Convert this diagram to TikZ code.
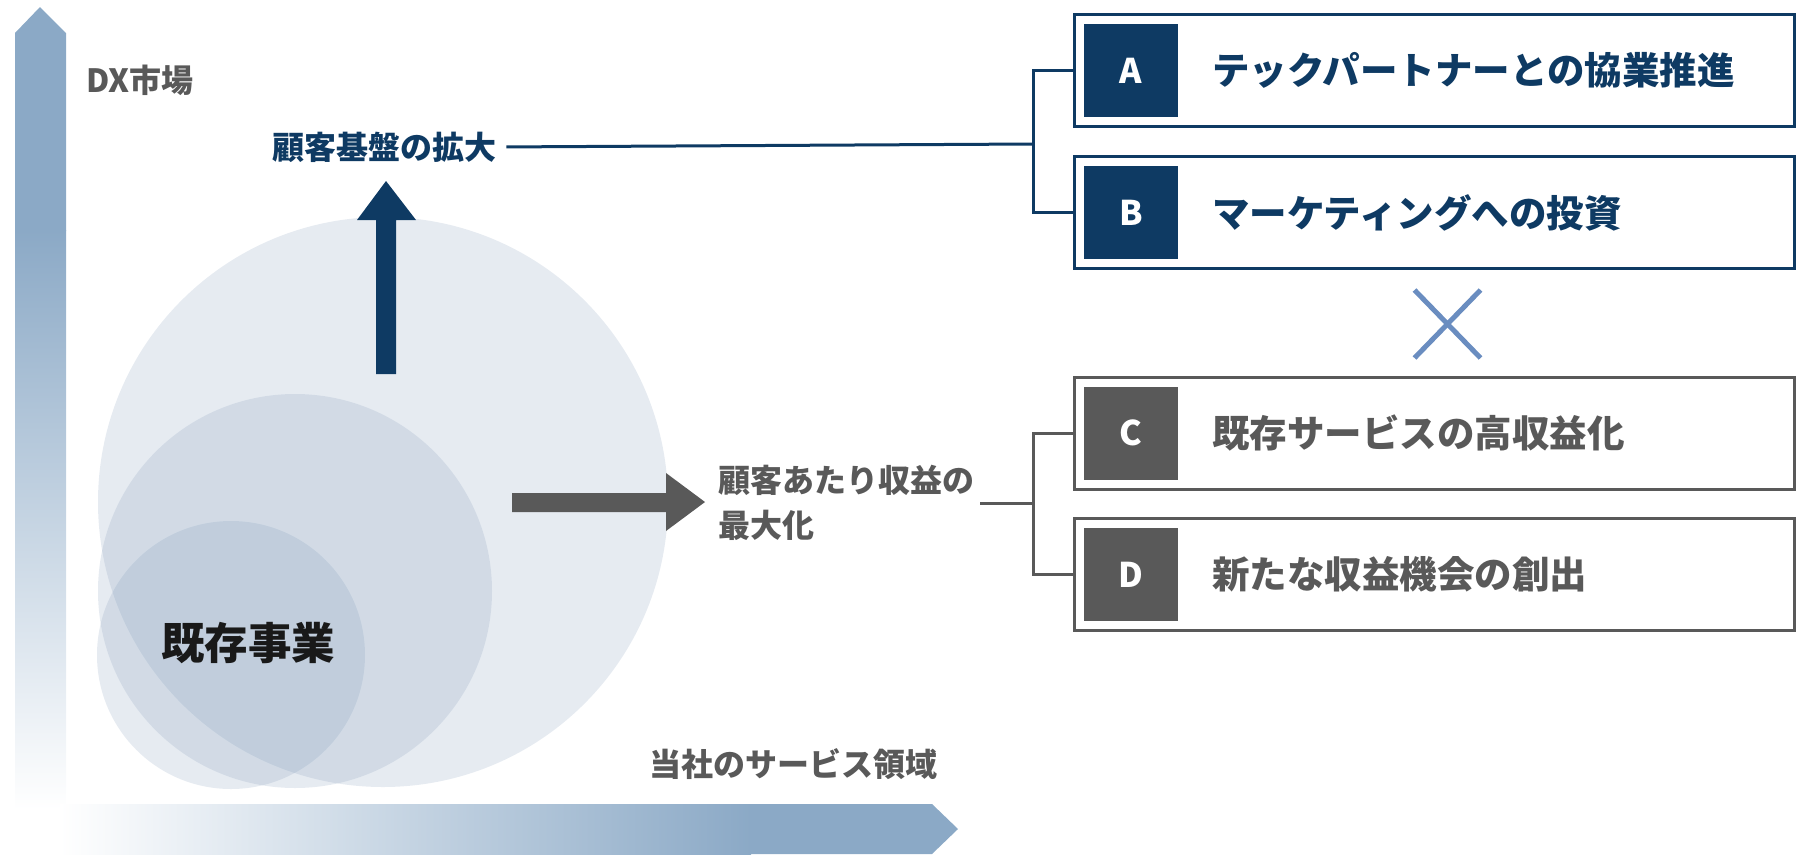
\documentclass[tikz,border=0pt]{standalone}
\usepackage{fontspec}
\usetikzlibrary{calc}
\setmainfont{Noto Sans CJK JP}
\definecolor{navy}{RGB}{14,58,99}
\definecolor{dgray}{RGB}{89,89,89}
\definecolor{axisblue}{RGB}{139,169,198}
\definecolor{circblue}{RGB}{122,148,180}
\definecolor{xblue}{RGB}{106,141,192}
\begin{document}
\begin{tikzpicture}[x=1pt,y=-1pt,
  lbl/.style={inner sep=0pt, font=\bfseries\fontsize{32}{45}\selectfont},
  boxnode/.style={draw, line width=3pt, fill=white, minimum width=720pt, minimum height=112pt, inner sep=0pt},
  tagnode/.style={minimum width=94pt, minimum height=93pt, inner sep=0pt, text=white, font=\bfseries\fontsize{34}{40}\selectfont},
  boxtext/.style={anchor=west, inner sep=0pt, font=\bfseries\fontsize{37.5}{44}\selectfont},
  conn/.style={line width=3pt},
  circ/.style={fill=circblue, fill opacity=0.19}
]
\useasboundingbox (0,0) rectangle (1801,854);

% axes
\fill[axisblue] (15,231) -- (15,33) -- (40,7) -- (66,33) -- (66,231) -- cycle;
\shade[top color=axisblue, bottom color=white] (15,230) rectangle (66,810);
\shade[left color=white, right color=axisblue] (60,804) rectangle (751,854);
\fill[axisblue] (750,804) -- (932,804) -- (958,829) -- (932,854) -- (750,854) -- cycle;

% circles
\fill[circ] (383,502) circle[radius=285pt];
\fill[circ] (295,591) circle[radius=197pt];
\fill[circ] (231,655) circle[radius=134pt];

% block arrows
\fill[navy] (376,374) -- (376,220) -- (357,220) -- (386,181) -- (416,220) -- (396,220) -- (396,374) -- cycle;
\fill[dgray] (512,493) -- (666,493) -- (666,473) -- (705,502) -- (666,531) -- (666,512) -- (512,512) -- cycle;

% labels
\node[lbl, text=dgray, anchor=west] (dx) at (86,80) {DX市場};
\node[lbl, text=navy, anchor=west] (lab1) at (272,147) {顧客基盤の拡大};
\node[lbl, text=dgray, anchor=west, align=left] (lab2) at (718,503) {顧客あたり収益の\\最大化};
\node[lbl, text=dgray, anchor=west] (xlab) at (649,764) {当社のサービス領域};
\node[inner sep=0pt, font=\bfseries\fontsize{43.5}{50}\selectfont, text=black!90] (core) at (248,643) {既存事業};

% boxes
\node[boxnode, draw=navy] (boxA) at (1434.5,70.5) {};
\node[boxnode, draw=navy] (boxB) at (1434.5,212.5) {};
\node[boxnode, draw=dgray] (boxC) at (1434.5,433) {};
\node[boxnode, draw=dgray] (boxD) at (1434.5,574.5) {};

\node[tagnode, fill=navy] (tagA) at (1131,70.5) {A};
\node[tagnode, fill=navy] (tagB) at (1131,212.5) {B};
\node[tagnode, fill=dgray] (tagC) at (1131,433) {C};
\node[tagnode, fill=dgray] (tagD) at (1131,574.5) {D};

\node[boxtext, text=navy] (txtA) at (1212,70.5) {テックパートナーとの協業推進};
\node[boxtext, text=navy] (txtB) at (1212,212.5) {マーケティングへの投資};
\node[boxtext, text=dgray] (txtC) at (1212,433) {既存サービスの高収益化};
\node[boxtext, text=dgray] (txtD) at (1212,574.5) {新たな収益機会の創出};

% cross
\coordinate (xc) at (1447.5,324);
\draw[xblue, line width=5pt] ($(xc)+(-33,-34)$) -- ($(xc)+(33,34)$);
\draw[xblue, line width=5pt] ($(xc)+(33,-34)$) -- ($(xc)+(-33,34)$);

% connectors
\coordinate (brAB) at (1033,144);
\coordinate (brCD) at (1033,503);
\draw[conn, navy, shorten <=10pt] (lab1.east) -- (brAB);
\draw[conn, navy] (boxA.west) -- (boxA.west -| brAB) -- (boxB.west -| brAB) -- (boxB.west);
\draw[conn, dgray, shorten <=6pt] (lab2.east) -- (brCD);
\draw[conn, dgray] (boxC.west) -- (boxC.west -| brCD) -- (boxD.west -| brCD) -- (boxD.west);
\end{tikzpicture}
\end{document}
